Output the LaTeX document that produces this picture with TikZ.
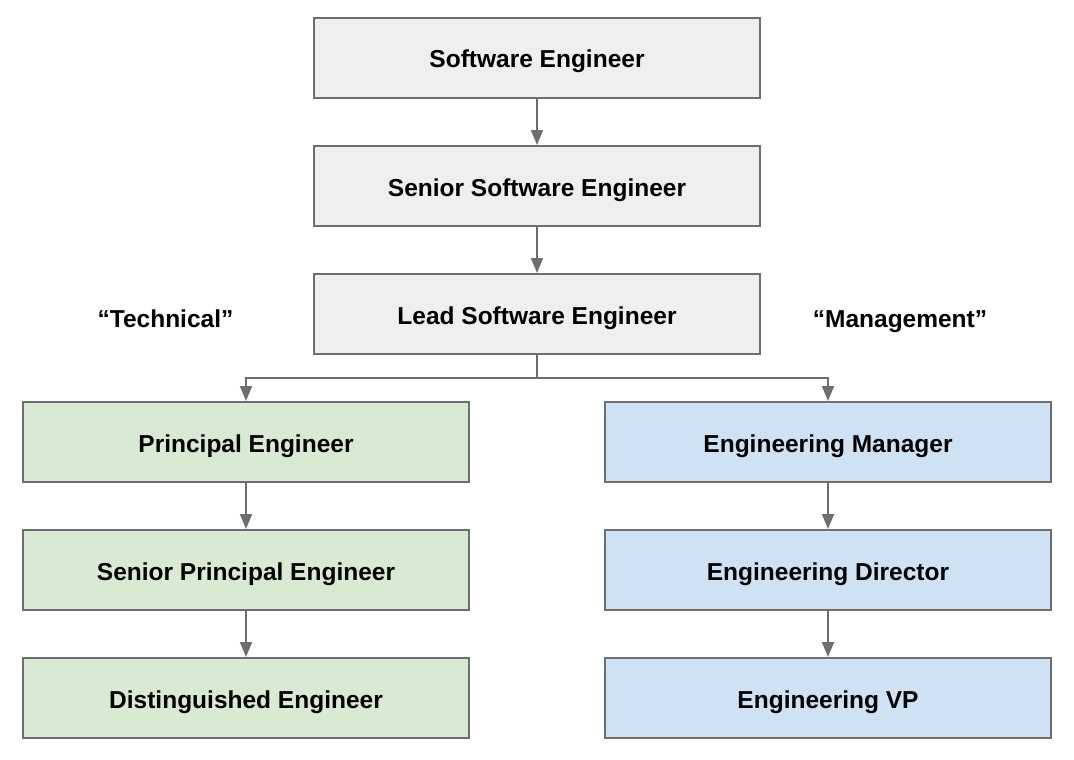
\documentclass[tikz,border=0pt]{standalone}
\usepackage{fontspec}
\setmainfont{Liberation Sans}
\usetikzlibrary{arrows.meta,positioning}
\definecolor{cBase}{HTML}{EFEFEF}
\definecolor{cTech}{HTML}{D9EAD3}
\definecolor{cMgmt}{HTML}{CFE2F3}
\definecolor{cLine}{HTML}{6E6E6E}
\tikzset{
  role/.style    ={draw=cLine,line width=2pt,minimum width=446pt,minimum height=80pt,
                   inner sep=0pt,align=center,text height=20pt,text depth=0pt,
                   font=\fontsize{24.5}{28}\selectfont\bfseries},
  base/.style    ={role,fill=cBase},
  tech/.style    ={role,fill=cTech},
  mgmt/.style    ={role,fill=cMgmt},
  track/.style   ={inner sep=0pt,text height=20pt,text depth=0pt,
                   font=\fontsize{24.5}{28}\selectfont\bfseries},
  promote/.style ={-{Triangle[length=15pt,width=12pt]},draw=cLine,line width=2pt},
}
\begin{document}
\begin{tikzpicture}[x=1pt,y=1pt]
\useasboundingbox (0,0) rectangle (1074,-760);

% --- common ladder ---------------------------------------------------------
\node[base] (swe)  at (537,-58)  {Software Engineer};
\node[base] (sswe) at (537,-186) {Senior Software Engineer};
\node[base] (lswe) at (537,-314) {Lead Software Engineer};

% --- technical track --------------------------------------------------------
\node[tech] (pe)  at (246,-442) {Principal Engineer};
\node[tech] (spe) at (246,-570) {Senior Principal Engineer};
\node[tech] (de)  at (246,-698) {Distinguished Engineer};

% --- management track -------------------------------------------------------
\node[mgmt] (em) at (828,-442) {Engineering Manager};
\node[mgmt] (ed) at (828,-570) {Engineering Director};
\node[mgmt] (vp) at (828,-698) {Engineering VP};

\node[track] (tl) at (165.5,-317) {``Technical''};
\node[track] (ml) at (900,-317) {``Management''};

\draw[promote] (swe)  -- (sswe);
\draw[promote] (sswe) -- (lswe);
\coordinate (fork) at (537,-378);
\draw[draw=cLine,line width=2pt] (lswe.south) -- (fork);
\draw[promote] (fork) -| (pe.north);
\draw[promote] (fork) -| (em.north);
\draw[promote] (pe)  -- (spe);
\draw[promote] (spe) -- (de);
\draw[promote] (em)  -- (ed);
\draw[promote] (ed)  -- (vp);

\end{tikzpicture}
\end{document}
